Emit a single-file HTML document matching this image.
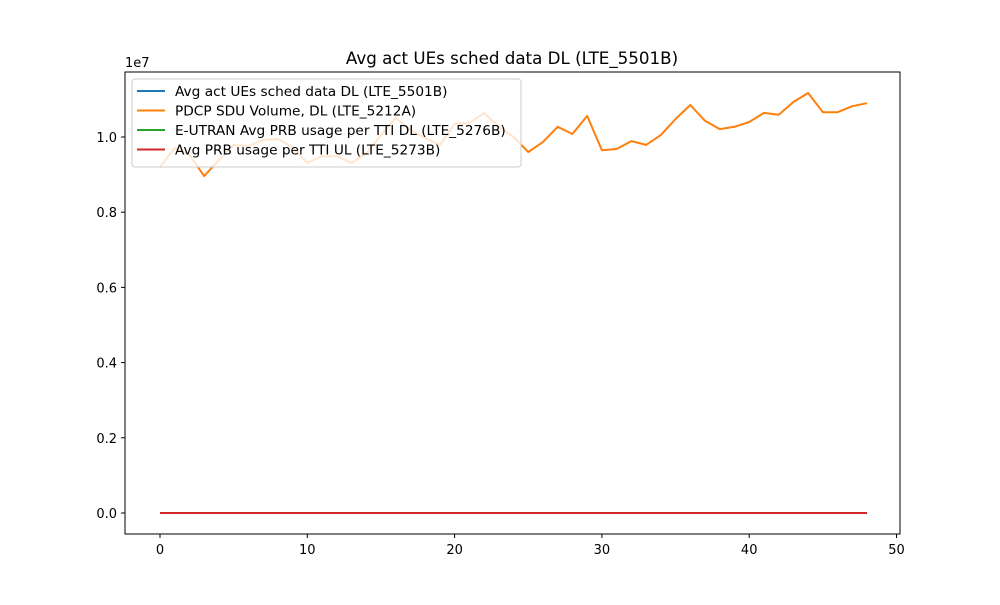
<!DOCTYPE html>
<html><head><meta charset="utf-8"><style>
body{margin:0;background:#fff;font-family:"Liberation Sans","DejaVu Sans",sans-serif}
</style></head><body>
<svg id="chart" width="1000" height="600" xmlns="http://www.w3.org/2000/svg" style="font-family:'DejaVu Sans','Liberation Sans',sans-serif">
<rect width="1000" height="600" fill="#fff"/>
<text x="512" y="64" font-size="16.7" text-anchor="middle">Avg act UEs sched data DL (LTE_5501B)</text>
<text x="125" y="67" font-size="13">1e7</text>
<g id="ticks"></g>
<g id="series"></g>
<rect x="125" y="72" width="775" height="462" fill="none" stroke="#000" stroke-width="1"/>
<g id="legend"></g>
</svg>
<script>
const xValues = [];
for (let i = 0; i <= 48; i++) xValues.push(i);
const pdcpVolume = [0.920,0.971,0.952,0.896,0.939,0.979,0.976,0.992,0.995,0.973,0.931,0.949,0.949,0.931,0.957,1.005,1.051,1.019,0.997,0.979,1.035,1.037,1.064,1.027,1.000,0.960,0.987,1.027,1.008,1.056,0.965,0.968,0.989,0.979,1.005,1.048,1.085,1.043,1.021,1.027,1.040,1.064,1.059,1.093,1.117,1.066,1.066,1.082,1.090];
const avgActUEs = xValues.map(()=>0);
const prbDL = xValues.map(()=>0);
const prbUL = xValues.map(()=>0);
const xTicks = [0,10,20,30,40,50];
const yTicks = [0.0,0.2,0.4,0.6,0.8,1.0];
const seriesNames = ["Avg act UEs sched data DL (LTE_5501B)","PDCP SDU Volume, DL (LTE_5212A)","E-UTRAN Avg PRB usage per TTI DL (LTE_5276B)","Avg PRB usage per TTI UL (LTE_5273B)"];
const colors = ["#1f77b4","#ff7f0e","#2ca02c","#d62728"];

const NS="http://www.w3.org/2000/svg";
function X(v){return 160+(v-0)*14.73;}
function Y(v){return 513-v*376;}
function el(t,a,p){const e=document.createElementNS(NS,t);for(const k in a)e.setAttribute(k,a[k]);p.appendChild(e);return e;}
const ticks=document.getElementById('ticks');
xTicks.forEach(t=>{
  const l=el('line',{x1:X(t),x2:X(t),y1:534,y2:538,stroke:'#000'},ticks);
  
  
  const tx=el('text',{x:X(t),y:554,'font-size':13,'text-anchor':'middle'},ticks);
  tx.textContent=t;
  
  
});
yTicks.forEach(t=>{
  const l=el('line',{x1:121,x2:125,y1:Y(t),y2:Y(t),stroke:'#000'},ticks);
  
  
  const tx=el('text',{x:117,y:Y(t)+5,'font-size':13,'text-anchor':'end'},ticks);
  tx.textContent=t.toFixed(1);
  
  
});
const sg=document.getElementById('series');
[avgActUEs,pdcpVolume,prbDL,prbUL].forEach((s,i)=>{
  const pts=s.map((v,j)=>X(xValues[j]).toFixed(1)+','+Y(v).toFixed(1)).join(' ');
  const p=el('polyline',{points:pts,fill:'none',stroke:colors[i],'stroke-width':2,'stroke-linejoin':'round'},sg);
  
  
});
const lg=document.getElementById('legend');
const box=el('rect',{x:132,y:79,width:389,height:88,rx:3,fill:'#fff','fill-opacity':0.8,stroke:'#ccc'},lg);


seriesNames.forEach((n,i)=>{
  const y=91+i*19.5;
  const l=el('line',{x1:137,x2:165,y1:y,y2:y,stroke:colors[i],'stroke-width':2},lg);
  
  
  const t=el('text',{x:175,y:y+5,'font-size':13.7},lg);
  t.textContent=n;
  
  
});
</script>
</body></html>
